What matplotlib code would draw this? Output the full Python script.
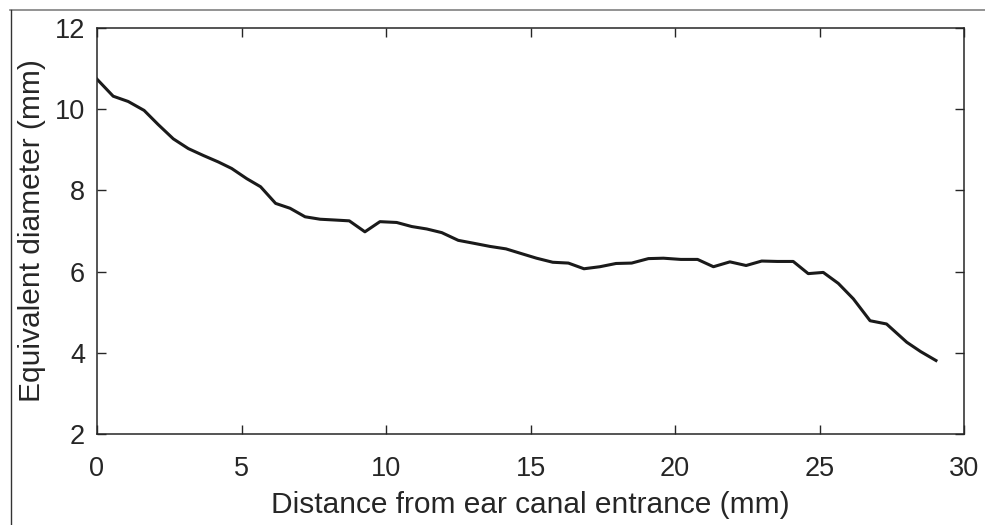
import matplotlib
matplotlib.use("Agg")
import matplotlib.pyplot as plt
from matplotlib.lines import Line2D

distance_mm = [0, 0.56, 1.08, 1.63, 2.12, 2.64, 3.16, 3.68, 4.20, 4.66,
               5.18, 5.66, 6.18, 6.68, 7.20, 7.72, 8.24, 8.73, 9.27, 9.79,
               10.37, 10.89, 11.41, 11.93, 12.50, 13.02, 13.60, 14.15, 14.70, 15.21,
               15.77, 16.31, 16.85, 17.40, 17.96, 18.50, 19.08, 19.60, 20.20, 20.78,
               21.33, 21.90, 22.46, 23.00, 23.54, 24.09, 24.61, 25.13, 25.65, 26.17,
               26.75, 27.32, 28.02, 28.50, 29.03]
diameter_mm = [10.74, 10.32, 10.19, 9.97, 9.62, 9.27, 9.03, 8.86, 8.70, 8.54,
               8.29, 8.09, 7.68, 7.56, 7.35, 7.29, 7.27, 7.25, 6.98, 7.23,
               7.21, 7.11, 7.05, 6.96, 6.77, 6.70, 6.62, 6.56, 6.44, 6.33,
               6.23, 6.21, 6.07, 6.12, 6.20, 6.21, 6.32, 6.33, 6.30, 6.30,
               6.12, 6.24, 6.15, 6.26, 6.25, 6.25, 5.95, 5.98, 5.71, 5.33,
               4.79, 4.71, 4.26, 4.03, 3.81]
x_ticks = [0, 5, 10, 15, 20, 25, 30]
y_ticks = [2, 4, 6, 8, 10, 12]

plt.rcParams['font.family'] = ['Liberation Sans', 'DejaVu Sans']

W, H = 985, 525
fig = plt.figure(figsize=(W / 100, H / 100), dpi=100)
ax = fig.add_axes([97 / W, 1 - 434 / H, (964 - 97) / W, (434 - 28) / H])

ax.plot(distance_mm, diameter_mm, color='#1a1a1a', linewidth=2.2)
ax.set_xlim(0, 30)
ax.set_ylim(2, 12)
ax.set_xticks(x_ticks)
ax.set_yticks(y_ticks)
ax.tick_params(direction='in', length=6.5, width=1, colors='#262626',
               labelsize=19.5, top=True, right=True)
ax.tick_params(axis='x', pad=15.5)
ax.tick_params(axis='y', pad=8.5)
for s in ax.spines.values():
    s.set_color('#262626')
    s.set_linewidth(1.1)
ax.set_xlabel('Distance from ear canal entrance (mm)', fontsize=21.5, color='#262626', labelpad=7)
ax.set_ylabel('Equivalent diameter (mm)', fontsize=21.5, color='#262626', labelpad=6)

# partial frame around the figure
fig.add_artist(Line2D([10 / W, 1], [1 - 10 / H, 1 - 10 / H], transform=fig.transFigure,
                      color='#808080', linewidth=1.2))
fig.add_artist(Line2D([10.7 / W, 10.7 / W], [0, 1 - 10 / H], transform=fig.transFigure,
                      color='#333333', linewidth=1.0))

fig.savefig('out.png', dpi=100)
